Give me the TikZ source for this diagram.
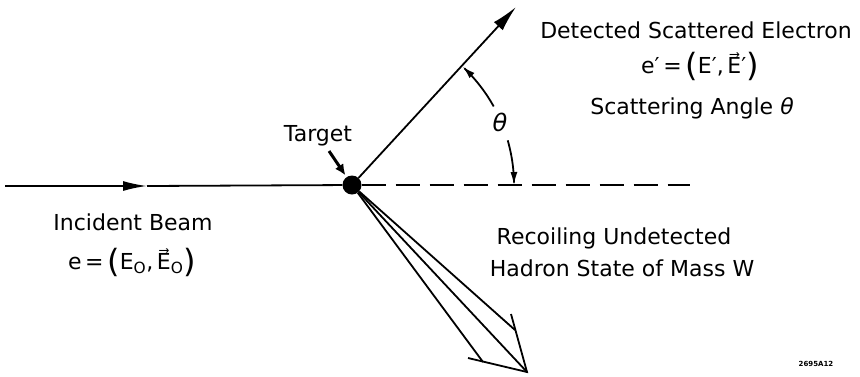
\documentclass[tikz,border=0pt]{standalone}
\usepackage{fontspec}
\setmainfont{DejaVu Sans}
\usetikzlibrary{arrows.meta}

% grosse Klammern im Stil der Beschriftung
\newcommand{\gk}[1]{\raisebox{-3pt}{\fontsize{32}{32}\selectfont #1}}

\begin{document}
\begin{tikzpicture}[x=1pt, y=-1pt,
    lbl/.style={font=\fontsize{22}{26}\selectfont},
    strahl/.style={line width=1.8pt},
    spitze/.style={-{Latex[length=24pt,width=10pt]}}]
    % Parameter: Radius des Winkelbogens
    \def\r{162}
    \useasboundingbox (0,0) rectangle (860,376);

    % Target (schwarzer Punkt)
    \node[circle, fill=black, inner sep=0pt, minimum size=19pt] (target) at (352,185) {};

    % Hilfspunkte fuer die Strahlen
    \coordinate (start) at (5,186);
    \coordinate (mitte) at (147,186);
    \coordinate (streu) at (516,7);
    \coordinate (ende) at (690,185);
    \coordinate (tip) at (527,372);
    \coordinate (barbO) at (511,314);
    \coordinate (barbU) at (468,358);
    \coordinate (hadO) at (515,330);
    \coordinate (hadU) at (483,362);
    \coordinate (zeiger) at (329,151);

    % Einlaufender Strahl mit Pfeil in der Mitte
    \draw[strahl, spitze] (start) -- (mitte);
    \draw[strahl] (mitte) -- (target);

    % Gestreutes Elektron
    \draw[strahl, -{Latex[length=26pt,width=12pt]}] (target) -- (streu);

    % Gestrichelte Verlaengerung
    \draw[strahl, dash pattern=on 24pt off 10pt] (target) -- (ende);

    % Winkelbogen theta, zwei Stuecke mit Luecke fuer die Beschriftung
    \draw[strahl, {Latex[length=13pt,width=7pt]}-] plot[domain=47:29, samples=20, smooth]
        ({352+\r*cos(\x)}, {185-\r*sin(\x)});
    \draw[strahl, -{Latex[length=13pt,width=7pt]}] plot[domain=16:0, samples=20, smooth]
        ({352+\r*cos(\x)}, {185-\r*sin(\x)});
    \node[lbl, font=\fontsize{24}{26}\selectfont\itshape] (theta) at (500,122) {θ};

    % Hadronischer Endzustand (Buendel mit grosser Pfeilspitze)
    \draw[strahl] (target) -- (tip);
    \draw[strahl] (target) -- (hadO);
    \draw[strahl] (target) -- (hadU);
    \draw[strahl] (barbO) -- (tip) -- (barbU);

    % Zeiger auf das Target
    \draw[line width=3pt, -{Latex[length=11pt,width=10pt]}, shorten >=2pt] (zeiger) -- (target);
    \node[lbl] (tlabel) at (318,136) {Target};

    % Beschriftungen
    \node[lbl] (detected) at (696,30) {Detected Scattered Electron};
    \node[lbl] (eprime) at (700,66) {e′\,=\,\gk{(}E′,\,E⃗′\gk{)}};
    \node[lbl] (angle) at (692,108) {Scattering Angle {\itshape θ}};
    \node[lbl] (incident) at (133,222) {Incident Beam};
    \node[lbl] (ebeam) at (132,262) {e\,=\,\gk{(}E\textsubscript{O},\,E⃗\textsubscript{O}\gk{)}};
    \node[lbl] (recoil) at (614,238) {Recoiling Undetected};
    \node[lbl] (hadron) at (622,268) {Hadron State of Mass W};
    \node[font=\fontsize{7}{8}\selectfont\bfseries] (figno) at (816,364) {2695A12};
\end{tikzpicture}
\end{document}
